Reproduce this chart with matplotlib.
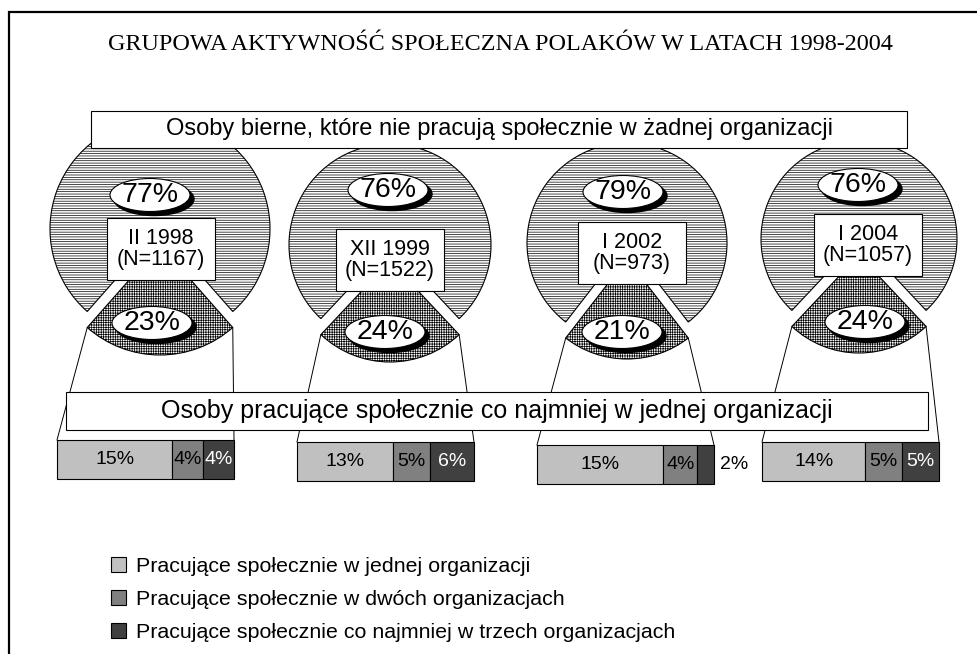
#!/usr/bin/env python3
"""
Grupowa aktywnosc spoleczna Polakow 1998-2004:
four exploded pies (passive / active) with a stacked bar below each one
"""
import matplotlib
matplotlib.use('Agg')
import matplotlib.pyplot as plt
from matplotlib.patches import Ellipse, Rectangle, Patch
import numpy as np

# --- data
dates = ['II 1998', 'XII 1999', 'I 2002', 'I 2004']
n_sizes = [1167, 1522, 973, 1057]
passive = [77, 76, 79, 76]      # osoby bierne
active = [23, 24, 21, 24]       # co najmniej w jednej organizacji
one_org = [15, 13, 15, 14]
two_org = [4, 5, 4, 5]
three_org = [4, 6, 2, 5]
legend_labels = ['Pracujące społecznie w jednej organizacji',
                 'Pracujące społecznie w dwóch organizacjach',
                 'Pracujące społecznie co najmniej w trzech organizacjach']
# ---

# --- layout (pixels, y measured from the top of the picture)
W, H = 978, 654
pie_cx = [160, 390, 627, 859]
pie_cy = [229, 245, 243, 239]
pie_r = [110, 101, 100, 98]
EXPL = 16
big_lbl = [(150, 195), (388, 190), (623, 192), (858, 185)]
small_lbl = [(152, 323), (385, 332), (622, 332), (865, 322)]
date_box = [(161, 249), (390, 260), (632, 253), (868, 245)]
bar_x = [57, 297, 537, 762]
bar_top = [440, 442, 445, 442]
BAR_W, BAR_H = 177, 39
bar_colors = ['#c0c0c0', '#808080', '#404040']
bar_text = ['black', 'black', 'white']
SANS = 'Liberation Sans'

plt.rcParams['hatch.linewidth'] = 0.5


def yy(y):
    return H - y


fig = plt.figure(figsize=(W / 100, H / 100), dpi=100)
ax = fig.add_axes([0, 0, 1, 1])

for i in range(4):
    cx, cy, r = pie_cx[i], yy(pie_cy[i]), pie_r[i]
    half = active[i] * 1.8
    ax.pie([passive[i], active[i]], radius=r, center=(cx, cy),
           startangle=270 + half, explode=[0, EXPL],
           hatch=['-------', '+++++++'],
           wedgeprops=dict(facecolor='white', edgecolor='black', linewidth=0.8))

    # percentage ellipses with a black shadow
    for (lx, ly), val in ((big_lbl[i], passive[i]), (small_lbl[i], active[i])):
        ax.add_patch(Ellipse((lx + 4, yy(ly) - 4), 80, 33, facecolor='black',
                             edgecolor='black', zorder=4))
        ax.add_patch(Ellipse((lx, yy(ly)), 80, 33, facecolor='white',
                             edgecolor='black', linewidth=0.8, zorder=4))
        ax.text(lx, yy(ly), '{}%'.format(val), ha='center', va='center',
                fontsize=20.5, family=SANS, zorder=5)

    # date box
    bx, by = date_box[i]
    ax.add_patch(Rectangle((bx - 54, yy(by) - 31), 108, 62, facecolor='white',
                           edgecolor='black', linewidth=0.8, zorder=4))
    ax.text(bx, yy(by), '{}\n(N={})'.format(dates[i], n_sizes[i]), ha='center',
            va='center', fontsize=15.5, family=SANS, linespacing=1.05, zorder=5)

    # stacked bar for the active ones
    vals = [one_org[i], two_org[i], three_org[i]]
    tot = float(sum(vals))
    left = bar_x[i]
    yc = yy(bar_top[i]) - BAR_H / 2
    for k, v in enumerate(vals):
        w = v / tot * BAR_W
        ax.barh(yc, w, height=BAR_H, left=left, color=bar_colors[k],
                edgecolor='black', linewidth=0.8, zorder=3)
        if w < 25:
            ax.text(left + w + 6, yc, '{}%'.format(v), ha='left', va='center',
                    fontsize=14, family=SANS, zorder=5)
        else:
            ax.text(left + w / 2, yc, '{}%'.format(v), ha='center', va='center',
                    fontsize=14, family=SANS, color=bar_text[k], zorder=5)
        left += w

    # lines from the exploded slice to the bar
    scy = cy - EXPL
    for ang, bxx in ((270 - half, bar_x[i]), (270 + half, bar_x[i] + BAR_W)):
        a = np.radians(ang)
        ax.plot([cx + r * np.cos(a), bxx], [scy + r * np.sin(a), yy(bar_top[i])],
                color='black', linewidth=0.7, zorder=1)

# --- the two long boxes
ax.add_patch(Rectangle((91, yy(148)), 816, 37, facecolor='white',
                       edgecolor='black', linewidth=0.8, zorder=6))
ax.text(499, yy(129.5), 'Osoby bierne, które nie pracują społecznie w żadnej organizacji',
        ha='center', va='center', fontsize=17, family=SANS, zorder=7)
ax.add_patch(Rectangle((66, yy(430)), 862, 38, facecolor='white',
                       edgecolor='black', linewidth=0.8, zorder=6))
ax.text(497, yy(411), 'Osoby pracujące społecznie co najmniej w jednej organizacji',
        ha='center', va='center', fontsize=18, family=SANS, zorder=7)

# --- title and outer frame
ax.text(500, yy(45), 'GRUPOWA AKTYWNOŚĆ SPOŁECZNA POLAKÓW W LATACH 1998-2004',
        ha='center', va='center', fontsize=17.4, family='Liberation Serif')
ax.plot([9, 9, W], [0, yy(12), yy(12)], color='black', linewidth=1.6,
        solid_joinstyle='miter')

# --- legend
handles = [Patch(facecolor=c, edgecolor='black', linewidth=0.8) for c in bar_colors]
ax.legend(handles, legend_labels, loc='upper left',
          bbox_to_anchor=(111 / W, yy(557) / H), frameon=False,
          prop=dict(family=SANS, size=15.4), handlelength=0.68, handleheight=0.68,
          handletextpad=0.5, labelspacing=0.66, borderaxespad=0, borderpad=0)

ax.set_xlim(0, W)
ax.set_ylim(0, H)
ax.set_aspect('auto')
ax.axis('off')

fig.savefig('out.png', dpi=100)
